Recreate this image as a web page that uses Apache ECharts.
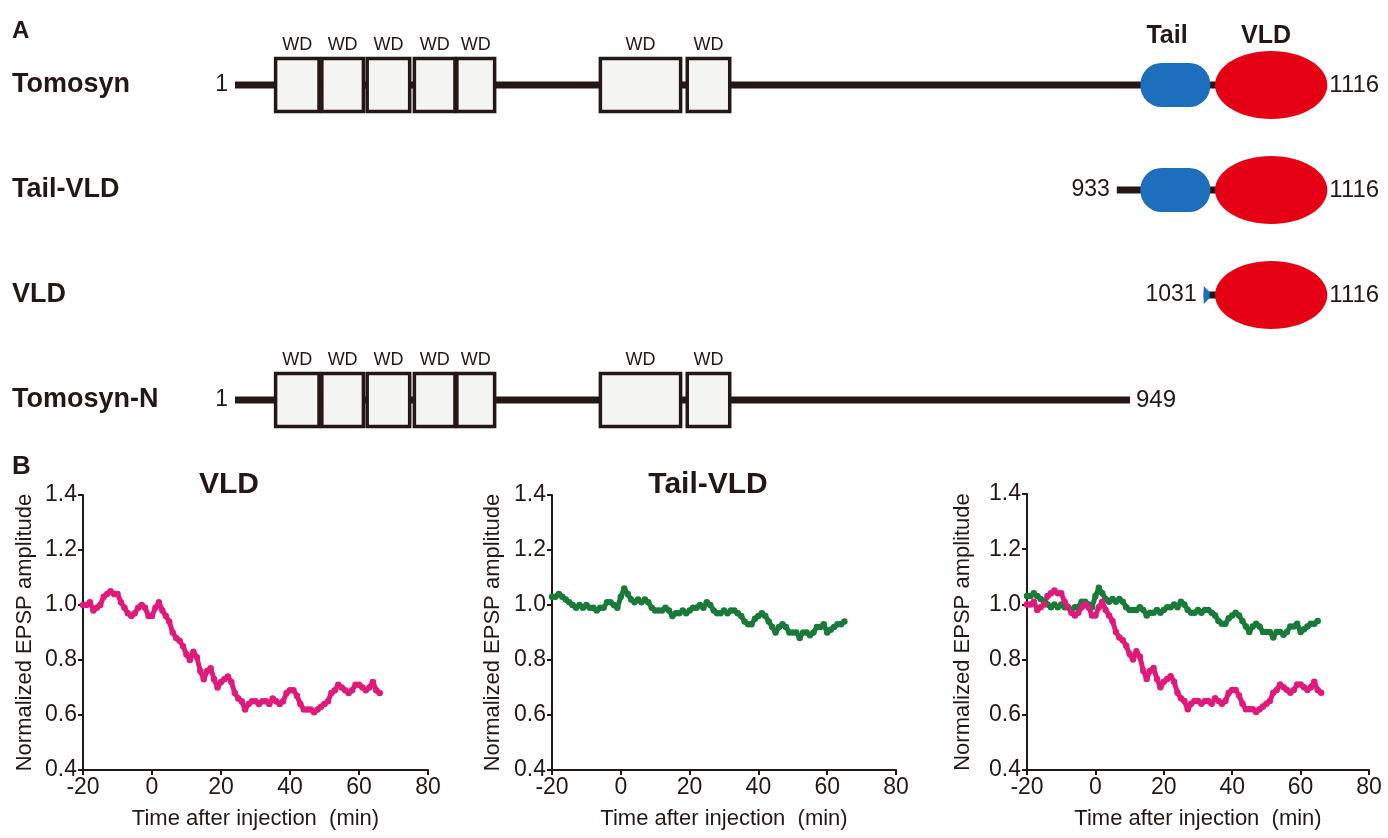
<!DOCTYPE html>
<html>
<head>
<meta charset="utf-8">
<script src="https://cdn.jsdelivr.net/npm/echarts@6/dist/echarts.min.js"></script>
<style>
html, body { margin: 0; padding: 0; background: #fff; }
#chart { width: 1388px; height: 838px; }
</style>
</head>
<body>
<div id="chart"></div>
<script>
// panel A: domain maps, positions in residues (schematic)
const constructs = ['Tomosyn', 'Tail-VLD', 'VLD', 'Tomosyn-N'];
const startLabels = ['1', '933', '1031', '1'];
const endLabels = ['1116', '1116', '1116', '949'];
const lineFrom = [1, 935, 1027, 1];
const lineTo = [1100, 1100, 1100, 949];
const hasWD = [true, false, false, true];
const hasTail = [true, true, false, false];
const hasVLD = [true, true, true, false];
const wdFrom = [44, 93, 141, 191, 236, 388, 480];
const wdTo = [90, 137, 186, 234, 276, 473, 525];
const tailRange = [960, 1034];
const vldRange = [1039, 1158];

// panel B: normalized EPSP amplitude, one point per minute
const timeVLD = [-20, -19, -18, -17, -16, -15, -14, -13, -12, -11, -10, -9, -8, -7, -6, -5, -4, -3, -2, -1,
  0, 1, 2, 3, 4, 5, 6, 7, 8, 9, 10, 11, 12, 13, 14, 15, 16, 17, 18, 19, 20, 21, 22, 23, 24, 25, 26, 27, 28, 29,
  30, 31, 32, 33, 34, 35, 36, 37, 38, 39, 40, 41, 42, 43, 44, 45, 46, 47, 48, 49, 50, 51, 52, 53, 54, 55, 56, 57,
  58, 59, 60, 61, 62, 63, 64, 65, 66];
const ampVLD = [1.00, 1.00, 1.01, 0.98, 0.99, 1.00, 1.03, 1.04, 1.05, 1.04,
  1.04, 1.01, 0.99, 0.97, 0.96, 0.97, 0.99, 1.00, 0.99, 0.96,
  0.96, 0.99, 1.01, 0.98, 0.96, 0.94, 0.90, 0.88, 0.87, 0.85,
  0.82, 0.80, 0.83, 0.81, 0.76, 0.73, 0.76, 0.77, 0.73, 0.70,
  0.72, 0.73, 0.74, 0.72, 0.68, 0.66, 0.65, 0.62, 0.64, 0.65,
  0.65, 0.64, 0.65, 0.65, 0.64, 0.66, 0.65, 0.64, 0.65, 0.68,
  0.69, 0.69, 0.67, 0.64, 0.62, 0.62, 0.62, 0.61, 0.62, 0.63,
  0.64, 0.65, 0.68, 0.69, 0.71, 0.70, 0.69, 0.68, 0.69, 0.71,
  0.71, 0.70, 0.69, 0.70, 0.72, 0.69, 0.68];
const timeTail = [-20, -19, -18, -17, -16, -15, -14, -13, -12, -11, -10, -9, -8, -7, -6, -5, -4, -3, -2, -1,
  0, 1, 2, 3, 4, 5, 6, 7, 8, 9, 10, 11, 12, 13, 14, 15, 16, 17, 18, 19, 20, 21, 22, 23, 24, 25, 26, 27, 28, 29,
  30, 31, 32, 33, 34, 35, 36, 37, 38, 39, 40, 41, 42, 43, 44, 45, 46, 47, 48, 49, 50, 51, 52, 53, 54, 55, 56, 57,
  58, 59, 60, 61, 62, 63, 64, 65];
const ampTail = [1.03, 1.03, 1.04, 1.03, 1.02, 1.01, 1.00, 0.99, 1.00, 0.99,
  1.00, 0.99, 0.99, 0.98, 0.99, 0.99, 1.01, 1.01, 1.00, 0.99,
  1.03, 1.06, 1.04, 1.02, 1.01, 1.02, 1.01, 1.02, 1.01, 0.99,
  0.98, 0.98, 0.98, 0.99, 0.98, 0.96, 0.97, 0.97, 0.98, 0.97,
  0.98, 0.99, 0.99, 1.00, 0.99, 1.01, 1.00, 0.98, 0.97, 0.97,
  0.98, 0.97, 0.98, 0.98, 0.97, 0.96, 0.94, 0.93, 0.93, 0.95,
  0.96, 0.97, 0.96, 0.94, 0.92, 0.90, 0.92, 0.93, 0.92, 0.90,
  0.90, 0.90, 0.88, 0.90, 0.90, 0.89, 0.90, 0.92, 0.92, 0.93,
  0.90, 0.91, 0.92, 0.93, 0.93, 0.94];
const xTicks = [-20, 80, 20];   // min, max, interval
const yTicks = [0.4, 1.4, 0.2];

const FONT = '"Liberation Sans", Arial, Helvetica, sans-serif';
const INK = '#231815';
const PINK = '#df1a7a';
const GREEN = '#1a7a3a';
const RED = '#e50014';
const BLUE = '#1d6ebd';

const chart = echarts.init(document.getElementById('chart'));

function renderConstruct(params, api) {
  const i = params.dataIndex;
  const px = r => api.coord([r, i])[0];
  const yc = api.coord([1, i])[1];
  const children = [];

  children.push({
    type: 'rect',
    shape: { x: px(lineFrom[i]), y: yc - 3.5, width: px(lineTo[i]) - px(lineFrom[i]), height: 7 },
    style: { fill: INK }
  });

  if (hasWD[i]) {
    wdFrom.forEach((from, k) => {
      const x0 = px(from), x1 = px(wdTo[k]);
      children.push({
        type: 'rect',
        shape: { x: x0, y: yc - 26.5, width: x1 - x0, height: 53 },
        style: { fill: '#f4f4f2', stroke: INK, lineWidth: 3.5 }
      });
      children.push({
        type: 'text',
        x: (x0 + x1) / 2, y: yc - 40,
        style: { text: 'WD', align: 'center', verticalAlign: 'middle', fontSize: 18, fontFamily: FONT, fill: INK }
      });
    });
  }

  if (hasTail[i]) {
    const x0 = px(tailRange[0]), x1 = px(tailRange[1]);
    children.push({
      type: 'rect',
      shape: { x: x0, y: yc - 22, width: x1 - x0, height: 44, r: 21 },
      style: { fill: BLUE }
    });
  }

  if (!hasTail[i] && hasVLD[i]) {
    // truncated tail fragment in front of the VLD
    const x0 = px(lineFrom[i]);
    children.push({
      type: 'polygon',
      shape: { points: [[x0, yc - 9], [x0 + 6, yc - 3], [x0 + 6, yc + 3], [x0, yc + 9]] },
      style: { fill: BLUE }
    });
  }

  if (hasVLD[i]) {
    const x0 = px(vldRange[0]), x1 = px(vldRange[1]);
    children.push({
      type: 'ellipse',
      shape: { cx: (x0 + x1) / 2, cy: yc, rx: (x1 - x0) / 2, ry: 34 },
      style: { fill: RED }
    });
  }

  const endX = hasVLD[i] ? px(vldRange[1]) + 2 : px(lineTo[i]) + 6;
  children.push({
    type: 'text',
    x: endX, y: yc,
    style: { text: endLabels[i], align: 'left', verticalAlign: 'middle', fontSize: 24, fontFamily: FONT, fill: INK }
  });
  children.push({
    type: 'text',
    x: px(lineFrom[i]) - 7, y: yc,
    style: { text: startLabels[i], align: 'right', verticalAlign: 'middle', fontSize: 23, fontFamily: FONT, fill: INK }
  });

  return { type: 'group', children };
}

const plotGrids = [
  { left: 83, top: 495, width: 345, height: 275 },
  { left: 552, top: 495, width: 344, height: 275 },
  { left: 1027, top: 494, width: 342, height: 276 }
];
const yNameGaps = [47, 48, 53];

function xAxisFor(g) {
  return {
    type: 'value', gridIndex: g,
    min: xTicks[0], max: xTicks[1], interval: xTicks[2],
    axisLine: { show: true, onZero: false, lineStyle: { color: INK, width: 2 } },
    axisTick: { show: true, length: 5, lineStyle: { color: INK, width: 2 } },
    axisLabel: { fontSize: 23, color: INK, fontFamily: FONT, margin: 6 },
    splitLine: { show: false },
    name: 'Time after injection  (min)', nameLocation: 'middle', nameGap: 38,
    nameTextStyle: { fontSize: 22, color: INK, fontFamily: FONT }
  };
}
function yAxisFor(g, k) {
  return {
    type: 'value', gridIndex: g,
    min: yTicks[0], max: yTicks[1], interval: yTicks[2],
    axisLine: { show: true, onZero: false, lineStyle: { color: INK, width: 2 } },
    axisTick: { show: true, length: 5, lineStyle: { color: INK, width: 2 } },
    axisLabel: { fontSize: 23, color: INK, fontFamily: FONT, margin: 6, formatter: v => v.toFixed(1) },
    splitLine: { show: false },
    name: 'Normalized EPSP amplitude', nameLocation: 'middle', nameGap: yNameGaps[k],
    nameTextStyle: { fontSize: 22, color: INK, fontFamily: FONT }
  };
}

const vldPoints = timeVLD.map((t, k) => [t, ampVLD[k]]);
const tailPoints = timeTail.map((t, k) => [t, ampTail[k]]);

function trace(name, data, axisIndex, color) {
  return {
    type: 'line', name, data,
    xAxisIndex: axisIndex, yAxisIndex: axisIndex,
    showSymbol: true, symbol: 'circle', symbolSize: 6.5,
    lineStyle: { color, width: 5 },
    itemStyle: { color },
    silent: true
  };
}

const option = {
  animation: false,
  grid: [{ left: 235, top: 32.5, width: 1132, height: 420 }].concat(plotGrids),
  xAxis: [{
    type: 'value', gridIndex: 0, min: 1, max: 1200, show: false
  }, xAxisFor(1), xAxisFor(2), xAxisFor(3)],
  yAxis: [{
    type: 'category', gridIndex: 0, inverse: true, data: constructs,
    axisLine: { show: false }, axisTick: { show: false },
    axisLabel: { align: 'left', margin: 223, fontSize: 27, fontWeight: 'bold', color: INK, fontFamily: FONT }
  }, yAxisFor(1, 0), yAxisFor(2, 1), yAxisFor(3, 2)],
  graphic: [
    { type: 'text', x: 12, y: 31, style: { text: 'A', verticalAlign: 'middle', fontSize: 24, fontWeight: 'bold', fontFamily: FONT, fill: INK } },
    { type: 'text', x: 12, y: 467, style: { text: 'B', verticalAlign: 'middle', fontSize: 26, fontWeight: 'bold', fontFamily: FONT, fill: INK } },
    { type: 'text', x: 1167, y: 36, style: { text: 'Tail', align: 'center', verticalAlign: 'middle', fontSize: 25, fontWeight: 'bold', fontFamily: FONT, fill: INK } },
    { type: 'text', x: 1266, y: 36, style: { text: 'VLD', align: 'center', verticalAlign: 'middle', fontSize: 25, fontWeight: 'bold', fontFamily: FONT, fill: INK } },
    { type: 'text', x: 229, y: 485, style: { text: 'VLD', align: 'center', verticalAlign: 'middle', fontSize: 30, fontWeight: 'bold', fontFamily: FONT, fill: INK } },
    { type: 'text', x: 708, y: 485, style: { text: 'Tail-VLD', align: 'center', verticalAlign: 'middle', fontSize: 30, fontWeight: 'bold', fontFamily: FONT, fill: INK } }
  ],
  series: [
    {
      type: 'custom', xAxisIndex: 0, yAxisIndex: 0,
      data: constructs.map((c, i) => [1, i]),
      renderItem: renderConstruct,
      silent: true
    },
    trace('VLD', vldPoints, 1, PINK),
    trace('Tail-VLD', tailPoints, 2, GREEN),
    trace('Tail-VLD', tailPoints, 3, GREEN),
    trace('VLD', vldPoints, 3, PINK)
  ]
};

chart.setOption(option);
window.addEventListener('resize', () => chart.resize());
</script>
</body>
</html>
